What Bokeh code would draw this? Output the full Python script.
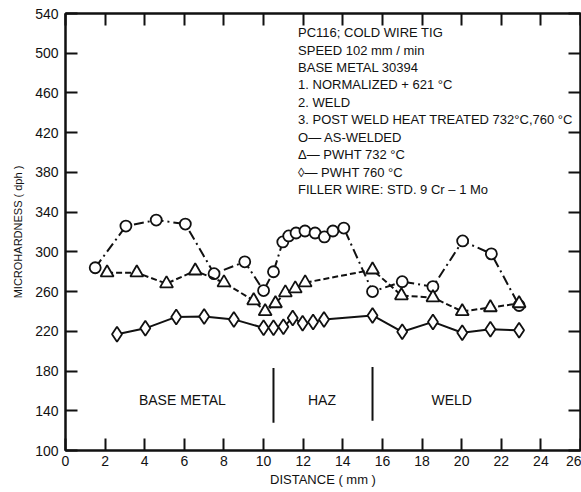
from bokeh.plotting import figure
from bokeh.models import LinearAxis, FixedTicker, Range1d
from bokeh.embed import file_html
from bokeh.resources import INLINE
from bokeh.core.properties import value

# ---- data ----
aw_x = [1.5, 3.05, 4.58, 6.05, 7.5, 9.05, 10.0, 10.5, 10.97, 11.27, 11.64, 12.09,
        12.6, 13.07, 13.5, 14.05, 15.5, 17.0, 18.55, 20.05, 21.5, 22.9]
aw_y = [284, 326, 332, 328, 278, 290, 261, 280, 310, 316, 319, 321,
        319, 315, 321, 324, 260, 270, 265, 311, 298, 246]

p732_x = [2.1, 3.6, 5.1, 6.55, 8.0, 9.5, 10.08, 10.6, 11.1, 11.6, 12.1,
          15.5, 16.96, 18.55, 20.03, 21.45, 22.9]
p732_y = [279, 279, 268, 281, 269, 251, 240, 248, 259, 263, 269,
          282, 256, 254, 240, 244, 248]

p760_x = [2.6, 4.03, 5.59, 7.0, 8.5, 10.0, 10.5, 11.0, 11.47, 11.97, 12.5, 13.05,
          15.5, 17.0, 18.55, 20.03, 21.45, 22.9]
p760_y = [217, 223, 234.5, 235, 232, 223.5, 223.5, 224.5, 233.5, 228, 229.5, 232,
          236, 219.5, 229.5, 218.5, 222, 221]

zone_bounds = [10.5, 15.5]
zone_bound_lo = [128, 130]
zone_bound_hi = [183, 184]
zone_names = ["BASE METAL", "HAZ", "WELD"]
zone_centers = [5.9, 12.95, 19.5]
zone_label_y = 151

x_ticks = list(range(0, 27, 2))
y_ticks = list(range(100, 541, 40))

notes = [
    "PC116; COLD WIRE TIG",
    "SPEED 102 mm / min",
    "BASE METAL 30394",
    "1. NORMALIZED + 621 °C",
    "2. WELD",
    "3. POST WELD HEAT TREATED 732°C,760 °C",
    "O— AS-WELDED",
    "Δ— PWHT 732 °C",
    "◊— PWHT 760 °C",
    "FILLER WIRE: STD. 9 Cr – 1 Mo",
]

FONT = "Liberation Sans"
INK = "#111111"

p = figure(width=581, height=492, x_range=Range1d(0, 26), y_range=Range1d(100, 540),
           output_backend="svg", toolbar_location=None,
           min_border_left=65, min_border_right=1, min_border_top=13, min_border_bottom=42)
p.grid.visible = False
p.outline_line_color = INK
p.outline_line_width = 2
p.background_fill_color = "white"
p.border_fill_color = "white"


def style(ax, ticks, labels=True):
    ax.ticker = FixedTicker(ticks=ticks)
    ax.major_tick_in = 12
    ax.major_tick_out = 0
    ax.minor_tick_line_color = None
    ax.axis_line_color = INK
    ax.axis_line_width = 2
    ax.major_tick_line_color = INK
    ax.major_tick_line_width = 2
    ax.major_label_text_font = FONT
    if labels:
        ax.major_label_text_color = INK
        ax.major_label_text_font_size = "14px"
        ax.major_label_standoff = 5
    else:
        ax.major_label_text_color = None
        ax.major_label_text_font_size = "1px"
        ax.major_label_standoff = 0


xb = p.xaxis[0]
style(xb, x_ticks)
xb.axis_label = "DISTANCE ( mm )"
xb.axis_label_text_font = FONT
xb.axis_label_text_font_size = "13px"
xb.axis_label_text_font_style = "normal"
xb.axis_label_text_color = INK
xb.axis_label_standoff = 3

yl = p.yaxis[0]
style(yl, y_ticks)
yl.major_label_standoff = 7
yl.axis_label = "MICROHARDNESS ( dph )"
yl.axis_label_text_font = FONT
yl.axis_label_text_font_size = "11px"
yl.axis_label_text_font_style = "normal"
yl.axis_label_text_color = INK
yl.axis_label_standoff = 8

xt = LinearAxis()
style(xt, x_ticks, labels=False)
p.add_layout(xt, "above")
yr = LinearAxis()
style(yr, y_ticks, labels=False)
p.add_layout(yr, "right")

# ---- series ----
p.line(aw_x, aw_y, line_color=INK, line_width=2, line_dash="10 4 2 4")
p.scatter(aw_x, aw_y, marker="circle", size=11, fill_color="white",
          line_color=INK, line_width=1.8)

p.line(p732_x, p732_y, line_color=INK, line_width=2, line_dash="6 3")
p.scatter(p732_x, p732_y, marker="triangle", size=13, fill_color="white",
          line_color=INK, line_width=1.8)

p.line(p760_x, p760_y, line_color=INK, line_width=2)
p.scatter(p760_x, p760_y, marker="diamond", size=15, fill_color="white",
          line_color=INK, line_width=1.8)

# ---- zone separators and labels ----
p.segment(x0=zone_bounds, y0=zone_bound_lo, x1=zone_bounds, y1=zone_bound_hi,
          line_color=INK, line_width=2)
p.text(x=zone_centers, y=[zone_label_y] * len(zone_centers), text=zone_names,
       text_font=value(FONT), text_font_size="14px", text_color=INK,
       text_align="center", text_baseline="middle")

# ---- annotation block ----
note_x = 11.74
note_top = 520.8
note_step = 17.56
p.text(x=[note_x] * len(notes), y=[note_top - i * note_step for i in range(len(notes))],
       text=notes, text_font=value(FONT), text_font_size="13px", text_color=INK,
       text_align="left", text_baseline="middle")

open("out.html", "w").write(file_html(p, INLINE))
